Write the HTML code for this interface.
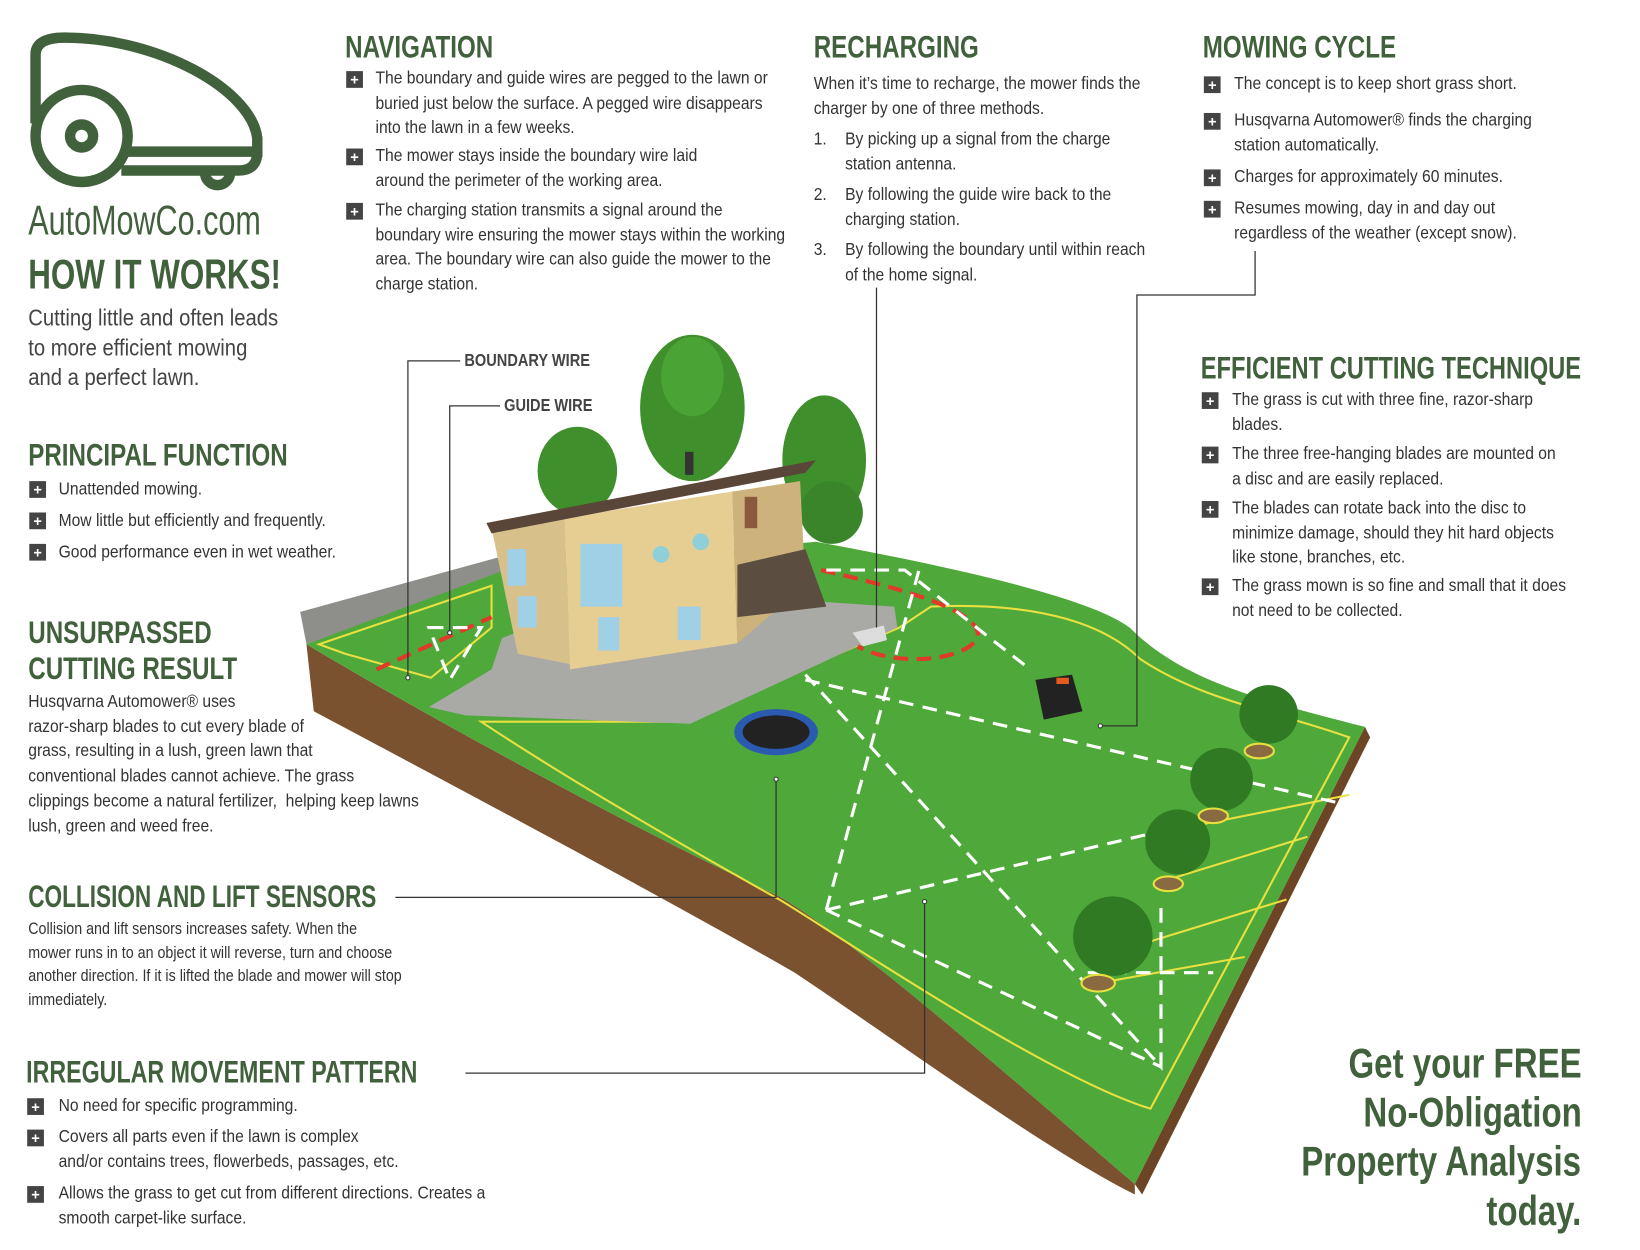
<!DOCTYPE html>
<html><head><meta charset="utf-8">
<style>
html,body{margin:0;padding:0;background:#fff;width:1640px;height:1250px;overflow:hidden}
#w{position:absolute;left:0;top:0;width:1568px;height:1195px;transform:scale(1.04592);transform-origin:0 0;font-family:"Liberation Sans",sans-serif;color:#333}
.t{position:absolute;white-space:nowrap;font-size:17px;line-height:23.5px;color:#333;transform:scaleX(0.88);transform-origin:0 0}
.h{position:absolute;white-space:nowrap;font-weight:bold;color:#41603c;font-size:30px;line-height:34px;transform:scaleX(0.77);transform-origin:0 0}
.b{position:absolute;width:16px;height:16px;background:#444;color:#fff;font:bold 14px/16px "Liberation Sans",sans-serif;text-align:center}
.lab{position:absolute;white-space:nowrap;font-weight:bold;color:#444;font-size:17px;line-height:20px;transform:scaleX(0.82);transform-origin:0 0}
.cta{position:absolute;right:56px;text-align:right;font-weight:bold;color:#41603c;font-size:40px;line-height:47px;white-space:nowrap;transform:scaleX(0.79);transform-origin:100% 0}
</style></head><body><div id="w">
<svg width="1568" height="1195" viewBox="0 0 1568 1195" style="position:absolute;left:0;top:0">
<g fill="none" stroke="#41603c" stroke-width="10">
<circle cx="78" cy="130" r="44"/>
<circle cx="78" cy="130" r="11"/>
<path d="M34,118 L34,52 Q34,36 62,36 C150,36 240,85 246,132 L246,145 L120,145"/>
<path d="M116,163 L228,163 Q246,163 246,145"/>
<path d="M196,165 A12,12 0 0 0 220,165"/>
</g>
<path d="M293,616 C400,680 600,790 745,857 C820,900 1000,1060 1085,1132 L1085,1142 C1000,1100 850,990 760,930 C620,850 450,760 300,680 Z" fill="#7a5230"/>
<path d="M1305,695 L1310,705 L1092,1142 L1085,1132 Z" fill="#6b4526"/>
<path d="M287,585 L480,532 L485,548 L293,616 Z" fill="#8e8e8a"/>
<path d="M293,616 L480,546 L780,518 C900,540 1040,570 1080,600 C1130,650 1200,668 1305,695 L1085,1132 C1000,1060 820,900 745,857 C600,790 400,680 293,616 Z" fill="#4fa83a"/>
<g fill="none" stroke="#e8e040" stroke-width="2">
<path d="M305,616 L470,560 L470,600 L412,648 L330,625 Z"/>
<path d="M460,690 L650,690 L860,600 L890,580 C1000,575 1060,600 1090,630 C1150,670 1220,680 1290,705 L1100,1060 C1000,1030 780,880 745,860 C620,790 520,730 460,690 Z"/>
<path d="M1140,790 L1290,760 M1120,840 L1250,800 M1100,900 L1230,860 M1050,940 L1190,915"/>
</g>
<path d="M410,676 L470,640 L480,610 L520,595 L780,575 L855,580 L858,600 L660,692 L445,684 Z" fill="#a9a9a6"/>
<ellipse cx="662" cy="390" rx="50" ry="70" fill="#3f8f2c"/><ellipse cx="662" cy="360" rx="30" ry="38" fill="#4aa335"/>
<ellipse cx="552" cy="450" rx="38" ry="42" fill="#3f8f2c"/>
<ellipse cx="788" cy="440" rx="40" ry="62" fill="#3f8f2c"/><circle cx="795" cy="490" r="30" fill="#3a852a"/>
<path d="M470,505 L540,495 L545,635 L495,625 Z" fill="#d8c08a"/>
<path d="M540,495 L700,470 L705,615 L545,640 Z" fill="#e6cd92"/>
<path d="M700,470 L765,460 L770,560 L705,615 Z" fill="#cdb27c"/>
<path d="M705,540 L770,525 L790,580 L705,590 Z" fill="#5b4e40"/>
<path d="M465,500 L780,440 L770,452 L470,510 Z" fill="#5a4638"/>
<rect x="655" y="432" width="8" height="22" fill="#333"/>
<rect x="555" y="520" width="40" height="60" fill="#9fd0e6"/>
<rect x="485" y="525" width="18" height="35" fill="#9fd0e6"/><rect x="495" y="570" width="18" height="30" fill="#9fd0e6"/>
<rect x="572" y="590" width="20" height="32" fill="#9fd0e6"/><rect x="648" y="580" width="22" height="32" fill="#9fd0e6"/>
<circle cx="632" cy="530" r="8" fill="#8fd0d8"/><circle cx="670" cy="518" r="8" fill="#8fd0d8"/>
<rect x="712" y="475" width="12" height="30" fill="#8a5a40"/>
<ellipse cx="742" cy="700" rx="40" ry="22" fill="#2a5bb0"/><ellipse cx="742" cy="700" rx="32" ry="16" fill="#222"/>
<path d="M990,650 L1025,645 L1035,680 L998,688 Z" fill="#222"/><rect x="1010" y="648" width="12" height="6" fill="#e55a20"/>
<path d="M815,605 L845,598 L848,612 L825,618 Z" fill="#ddd"/>
<g fill="none" stroke="#e03a2a" stroke-width="4" stroke-dasharray="14 8">
<path d="M360,640 L470,590"/>
<path d="M785,545 C850,560 930,580 935,605 C935,630 860,640 820,618"/>
</g>
<g fill="none" stroke="#fff" stroke-width="3" stroke-dasharray="14 9">
<path d="M770,645 L1110,1020 L1110,860 M790,870 L880,540 M770,650 L1290,770 M790,870 L1130,790 M790,870 L1110,1020 M1040,930 L1160,930 M790,545 L865,545 L940,605 L985,640 M410,600 L460,600 L430,650 Z"/>
</g>
<g fill="#2f7a22"><circle cx="1213" cy="683" r="28"/><circle cx="1168" cy="745" r="30"/><circle cx="1126" cy="805" r="31"/><circle cx="1064" cy="895" r="38"/></g>
<g fill="#8a6a40" stroke="#e8e040" stroke-width="2"><ellipse cx="1204" cy="718" rx="14" ry="7"/><ellipse cx="1160" cy="780" rx="14" ry="7"/><ellipse cx="1117" cy="845" rx="14" ry="7"/><ellipse cx="1050" cy="940" rx="16" ry="8"/></g>
<g fill="none" stroke="#333" stroke-width="1.2">
<path d="M440,345 L390,345 L390,648"/>
<path d="M478,388 L430,388 L430,605"/>
<path d="M838,275 L838,600"/>
<path d="M1200,240 L1200,282 L1087,282 L1087,694 L1054,694"/>
<path d="M378,858 L742,858 L742,745"/>
<path d="M445,1026 L884,1026 L884,862"/>
</g>
<g fill="#fff" stroke="#333" stroke-width="1"><circle cx="390" cy="648" r="2"/><circle cx="430" cy="605" r="2"/><circle cx="1052" cy="694" r="2"/><circle cx="742" cy="745" r="2"/><circle cx="884" cy="862" r="2"/></g>
</svg>

<div class="t" style="left:27px;top:188px;font-size:40px;line-height:46px;color:#41603c;transform:scaleX(0.73)">AutoMowCo.com</div>
<div class="h" style="left:27px;top:241px;font-size:40px;line-height:44px;transform:scaleX(0.75)">HOW IT WORKS!</div>
<div class="t" style="left:27px;top:290px;font-size:22px;line-height:28.5px;color:#444">Cutting little and often leads<br>to more efficient mowing<br>and a perfect lawn.</div>

<div class="h" style="left:27px;top:419px">PRINCIPAL FUNCTION</div>
<div class="b" style="left:28px;top:460px">+</div><div class="t" style="left:56px;top:456px">Unattended mowing.</div>
<div class="b" style="left:28px;top:490px">+</div><div class="t" style="left:56px;top:486px">Mow little but efficiently and frequently.</div>
<div class="b" style="left:28px;top:520px">+</div><div class="t" style="left:56px;top:516px">Good performance even in wet weather.</div>

<div class="h" style="left:27px;top:589px;line-height:34px">UNSURPASSED<br>CUTTING RESULT</div>
<div class="t" style="left:27px;top:659px;line-height:23.7px">Husqvarna Automower® uses<br>razor-sharp blades to cut every blade of<br>grass, resulting in a lush, green lawn that<br>conventional blades cannot achieve. The grass<br>clippings become a natural fertilizer,&nbsp; helping keep lawns<br>lush, green and weed free.</div>

<div class="h" style="left:27px;top:841px;transform:scaleX(0.72)">COLLISION AND LIFT SENSORS</div>
<div class="t" style="left:27px;top:878px;font-size:15.5px;line-height:22.6px">Collision and lift sensors increases safety. When the<br>mower runs in to an object it will reverse, turn and choose<br>another direction. If it is lifted the blade and mower will stop<br>immediately.</div>

<div class="h" style="left:25px;top:1009px;transform:scaleX(0.74)">IRREGULAR MOVEMENT PATTERN</div>
<div class="b" style="left:26px;top:1050px">+</div><div class="t" style="left:56px;top:1045px">No need for specific programming.</div>
<div class="b" style="left:26px;top:1080px">+</div><div class="t" style="left:56px;top:1075px">Covers all parts even if the lawn is complex<br>and/or contains trees, flowerbeds, passages, etc.</div>
<div class="b" style="left:26px;top:1134px">+</div><div class="t" style="left:56px;top:1129px">Allows the grass to get cut from different directions. Creates a<br>smooth carpet-like surface.</div>

<div class="h" style="left:330px;top:29px">NAVIGATION</div>
<div class="b" style="left:331px;top:68px">+</div><div class="t" style="left:359px;top:63px">The boundary and guide wires are pegged to the lawn or<br>buried just below the surface. A pegged wire disappears<br>into the lawn in a few weeks.</div>
<div class="b" style="left:331px;top:142px">+</div><div class="t" style="left:359px;top:137px">The mower stays inside the boundary wire laid<br>around the perimeter of the working area.</div>
<div class="b" style="left:331px;top:194px">+</div><div class="t" style="left:359px;top:189px">The charging station transmits a signal around the<br>boundary wire ensuring the mower stays within the working<br>area. The boundary wire can also guide the mower to the<br>charge station.</div>

<div class="h" style="left:778px;top:29px">RECHARGING</div>
<div class="t" style="left:778px;top:68px">When it’s time to recharge, the mower finds the<br>charger by one of three methods.</div>
<div class="t" style="left:778px;top:121px">1.</div><div class="t" style="left:808px;top:121px">By picking up a signal from the charge<br>station antenna.</div>
<div class="t" style="left:778px;top:174px">2.</div><div class="t" style="left:808px;top:174px">By following the guide wire back to the<br>charging station.</div>
<div class="t" style="left:778px;top:227px">3.</div><div class="t" style="left:808px;top:227px">By following the boundary until within reach<br>of the home signal.</div>

<div class="h" style="left:1150px;top:29px">MOWING CYCLE</div>
<div class="b" style="left:1151px;top:73px">+</div><div class="t" style="left:1180px;top:68px">The concept is to keep short grass short.</div>
<div class="b" style="left:1151px;top:108px">+</div><div class="t" style="left:1180px;top:103px">Husqvarna Automower® finds the charging<br>station automatically.</div>
<div class="b" style="left:1151px;top:162px">+</div><div class="t" style="left:1180px;top:157px">Charges for approximately 60 minutes.</div>
<div class="b" style="left:1151px;top:192px">+</div><div class="t" style="left:1180px;top:187px">Resumes mowing, day in and day out<br>regardless of the weather (except snow).</div>

<div class="h" style="left:1148px;top:336px;transform:scaleX(0.755)">EFFICIENT CUTTING TECHNIQUE</div>
<div class="b" style="left:1149px;top:375px">+</div><div class="t" style="left:1178px;top:370px">The grass is cut with three fine, razor-sharp<br>blades.</div>
<div class="b" style="left:1149px;top:427px">+</div><div class="t" style="left:1178px;top:422px">The three free-hanging blades are mounted on<br>a disc and are easily replaced.</div>
<div class="b" style="left:1149px;top:479px">+</div><div class="t" style="left:1178px;top:474px">The blades can rotate back into the disc to<br>minimize damage, should they hit hard objects<br>like stone, branches, etc.</div>
<div class="b" style="left:1149px;top:553px">+</div><div class="t" style="left:1178px;top:548px">The grass mown is so fine and small that it does<br>not need to be collected.</div>

<div class="lab" style="left:444px;top:335px">BOUNDARY WIRE</div>
<div class="lab" style="left:482px;top:378px">GUIDE WIRE</div>

<div class="cta" style="top:994px">Get your FREE</div>
<div class="cta" style="top:1041px">No-Obligation</div>
<div class="cta" style="top:1088px">Property Analysis</div>
<div class="cta" style="top:1135px">today.</div>
</div></body></html>
